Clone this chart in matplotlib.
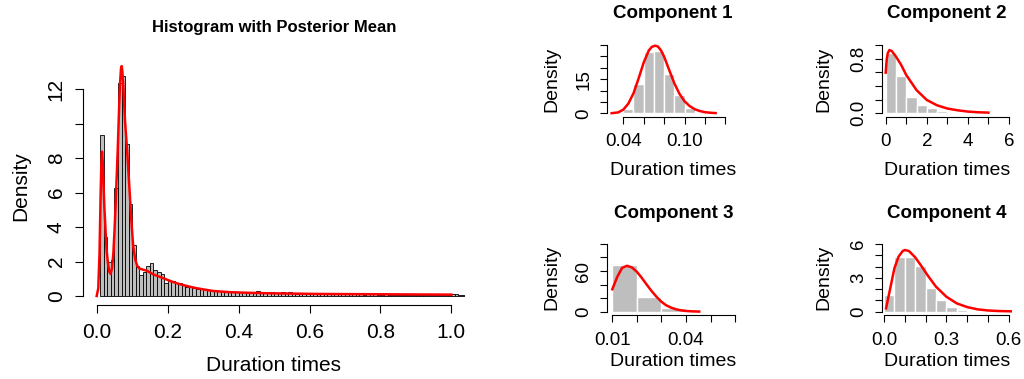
import numpy as np
import matplotlib
matplotlib.use("Agg")
import matplotlib.pyplot as plt

plt.rcParams['font.family'] = ['Liberation Sans', 'DejaVu Sans']

# ---------------- data ----------------
# main histogram: bins of width 0.01 starting at 0.01
main_bin_start = 0.01
main_bin_width = 0.01
main_density = [
    9.33, 3.42, 1.95, 2.09, 6.28, 12.39, 12.77, 8.83, 5.36, 2.94,
    1.72, 1.22, 1.41, 1.76, 1.90, 1.51, 1.41, 1.30, 0.75, 0.85,
    0.85, 0.77, 0.74, 0.64, 0.55, 0.50, 0.45, 0.42, 0.40, 0.38,
    0.36, 0.33, 0.32, 0.30, 0.28, 0.31, 0.26, 0.25, 0.24, 0.22,
    0.23, 0.20, 0.21, 0.19, 0.27, 0.20, 0.18, 0.26, 0.25, 0.17,
    0.16, 0.22, 0.15, 0.22, 0.15, 0.14, 0.20, 0.13, 0.14, 0.13,
    0.12, 0.14, 0.20, 0.12, 0.11, 0.10, 0.12, 0.10, 0.09, 0.10,
    0.09, 0.10, 0.12, 0.09, 0.08, 0.10, 0.09, 0.12, 0.08, 0.08,
    0.09, 0.07, 0.08, 0.07, 0.08, 0.07, 0.06, 0.07, 0.06, 0.07,
    0.06, 0.06, 0.05, 0.06, 0.05, 0.05, 0.06, 0.05, 0.06, 0.12,
    0.09, 0.05, 0.04,
]
# posterior mean density
main_curve_x = [0.0, 0.0045, 0.008, 0.011, 0.013, 0.015, 0.017, 0.0195, 0.0215, 0.025,
                0.028, 0.032, 0.0356, 0.0394, 0.043, 0.047, 0.0505, 0.0535, 0.059, 0.063,
                0.066, 0.0685, 0.0705, 0.0725, 0.075, 0.0798, 0.0863, 0.092, 0.0976, 0.103,
                0.109, 0.1145, 0.12, 0.13, 0.141, 0.16, 0.188, 0.21, 0.235, 0.26,
                0.282, 0.31, 0.329, 0.376, 0.42, 0.48, 0.55, 0.62, 0.7, 0.8, 0.9, 1.0]
main_curve_y = [0.0, 0.45, 2.5, 5.8, 7.6, 8.38, 7.8, 6.3, 5.2, 3.8,
                2.67, 1.85, 1.41, 1.28, 1.6, 2.48, 3.9, 5.38, 8.29, 10.8,
                12.4, 13.2, 13.35, 13.0, 12.2, 10.2, 8.29, 6.35, 4.41, 2.86,
                2.09, 1.74, 1.6, 1.53, 1.47, 1.25, 1.03, 0.85, 0.68, 0.55,
                0.45, 0.35, 0.29, 0.22, 0.19, 0.16, 0.14, 0.12, 0.11, 0.1, 0.09, 0.08]

# component 1
c1_edges = [0.04, 0.05, 0.06, 0.07, 0.08, 0.09, 0.10, 0.11]
c1_density = [1.9, 12.7, 26.8, 27.3, 17.4, 8.2, 2.5]
c1_curve_x = [0.0286, 0.035, 0.04, 0.045, 0.05, 0.055, 0.06, 0.065, 0.068, 0.0712, 0.074,
              0.077, 0.08, 0.085, 0.09, 0.095, 0.10, 0.105, 0.11, 0.115, 0.12, 0.125, 0.1305]
c1_curve_y = [0.05, 0.4, 1.6, 4.3, 8.8, 15.3, 22.3, 27.6, 29.2, 29.7, 29.3,
              27.6, 24.9, 19.0, 13.2, 8.6, 5.3, 3.2, 1.8, 1.0, 0.5, 0.25, 0.1]

# component 2
c2_edges = [0.0, 0.5, 1.0, 1.5, 2.0, 2.5, 3.0, 3.5, 4.0, 4.5, 5.0]
c2_density = [0.89, 0.55, 0.245, 0.125, 0.074, 0.036, 0.02, 0.012, 0.008, 0.005]
c2_curve_x = [0.0, 0.05, 0.1, 0.18, 0.3, 0.5, 0.75, 1.0, 1.25, 1.5, 2.0, 2.5, 3.0,
              3.5, 4.0, 4.5, 5.0]
c2_curve_y = [0.595, 0.79, 0.88, 0.927, 0.91, 0.83, 0.71, 0.56, 0.45, 0.34, 0.195,
              0.117, 0.07, 0.044, 0.025, 0.015, 0.01]

# component 3
c3_edges = [0.01, 0.02, 0.03, 0.04]
c3_density = [68.9, 22.1, 5.9]
c3_curve_x = [0.010, 0.012, 0.014, 0.016, 0.018, 0.020, 0.022, 0.024, 0.026, 0.028,
              0.030, 0.032, 0.034, 0.036, 0.038, 0.040, 0.0425, 0.0454]
c3_curve_y = [33.1, 51.3, 64.7, 67.8, 65.3, 58.9, 50.0, 40.0, 30.5, 22.0,
              14.7, 9.3, 5.9, 3.5, 2.0, 1.1, 0.5, 0.2]

# component 4
c4_edges = [0.0, 0.05, 0.10, 0.15, 0.20, 0.25, 0.30, 0.35, 0.40, 0.45, 0.50]
c4_density = [1.45, 4.88, 4.88, 4.05, 2.1, 1.04, 0.39, 0.15, 0.06, 0.03]
c4_curve_x = [0.01, 0.03, 0.05, 0.07, 0.09, 0.10, 0.12, 0.15, 0.18, 0.21, 0.25,
              0.30, 0.35, 0.40, 0.45, 0.50, 0.55, 0.62]
c4_curve_y = [0.3, 2.07, 3.85, 4.88, 5.38, 5.47, 5.38, 4.82, 4.05, 3.22, 2.22,
              1.33, 0.74, 0.41, 0.21, 0.11, 0.06, 0.03]

W, H = 1024, 379
fig = plt.figure(figsize=(W / 100, H / 100), dpi=100)

BAR_GREY = "#BEBEBE"
RED = "#FF0000"


def px_axes(left, right, top, bottom, xlim, ylim):
    ax = fig.add_axes([left / W, 1 - bottom / H, (right - left) / W, (bottom - top) / H])
    ax.set_xlim(*xlim)
    ax.set_ylim(*ylim)
    ax.patch.set_visible(False)
    return ax


def r_axes(ax, xticks, xlabels, yticks, ylabels, fs, tlen, xpad, ypad):
    for s in ["top", "right"]:
        ax.spines[s].set_visible(False)
    ax.spines["bottom"].set_bounds(xticks[0], xticks[-1])
    ax.spines["left"].set_bounds(yticks[0], yticks[-1])
    for s in ["bottom", "left"]:
        ax.spines[s].set_linewidth(0.8)
    ax.set_xticks(xticks, xlabels)
    ax.set_yticks(yticks, ylabels)
    ax.tick_params(direction="out", length=tlen, width=0.8, labelsize=fs)
    ax.tick_params(axis="x", pad=xpad)
    ax.tick_params(axis="y", pad=ypad, labelrotation=90)
    for lab in ax.get_yticklabels():
        lab.set_va("center")


def ftext(x, y, s, **kw):
    fig.text(x / W, 1 - y / H, s, **kw)


# ---------------- main histogram ----------------
ax = px_axes(83, 464.6, 65, 305, (-0.0386, 1.0372), (-0.523, 13.41))
lefts = main_bin_start + main_bin_width * np.arange(len(main_density))
ax.bar(lefts, main_density, width=main_bin_width, align="edge",
       color=BAR_GREY, edgecolor="black", linewidth=0.6)
ax.plot(main_curve_x, main_curve_y, color=RED, lw=1.8)
r_axes(ax, [0.0, 0.2, 0.4, 0.6, 0.8, 1.0], ["0.0", "0.2", "0.4", "0.6", "0.8", "1.0"],
       [0, 2, 4, 6, 8, 10, 12], ["0", "2", "4", "6", "8", "", "12"],
       15, 6, 7, 6.5)
ftext(273.8, 31.7, "Histogram with Posterior Mean", ha="center", va="baseline",
      fontsize=12, fontweight="bold")
ftext(273.8, 371, "Duration times", ha="center", va="baseline", fontsize=15)
ftext(21, 185.8, "Density", ha="center", va="center", rotation=90, fontsize=15)

# ---------------- components ----------------
comps = [
    dict(edges=c1_edges, dens=c1_density, cx=c1_curve_x, cy=c1_curve_y,
         box=(607, 737.5, 35, 116.7), xlim=(0.02402, 0.15196), ylim=(-1.493, 34.39),
         xt=[0.04, 0.06, 0.08, 0.10, 0.12, 0.14], xl=["0.04", "", "", "0.10", "", ""],
         yt=[0, 5, 10, 15, 20, 25, 30], yl=["0", "", "", "15", "", "", ""],
         title="Component 1", tx=672.5, ty=17.5, lx=551.7, ly=79, bx=673, by=175.5),
    dict(edges=c2_edges, dens=c2_density, cx=c2_curve_x, cy=c2_curve_y,
         box=(881.7, 1012.3, 35, 116.7), xlim=(-0.195, 6.161), ylim=(-0.0498, 1.1464),
         xt=[0, 1, 2, 3, 4, 5, 6], xl=["0", "", "2", "", "4", "", "6"],
         yt=[0.0, 0.2, 0.4, 0.6, 0.8, 1.0], yl=["0.0", "", "", "", "0.8", ""],
         title="Component 2", tx=947, ty=17.5, lx=824.2, ly=79, bx=947, by=175.5),
    dict(edges=c3_edges, dens=c3_density, cx=c3_curve_x, cy=c3_curve_y,
         box=(606.7, 737.5, 235, 315), xlim=(0.00772, 0.06098), ylim=(-4.87, 113.2),
         xt=[0.01, 0.02, 0.03, 0.04, 0.05, 0.06], xl=["0.01", "", "", "0.04", "", ""],
         yt=[0, 20, 40, 60, 80, 100], yl=["0", "", "", "60", "", ""],
         title="Component 3", tx=673.8, ty=217.5, lx=551.7, ly=277.5, bx=673, by=365.5),
    dict(edges=c4_edges, dens=c4_density, cx=c4_curve_x, cy=c4_curve_y,
         box=(881.7, 1012.3, 235, 315), xlim=(-0.01107, 0.6174), ylim=(-0.2926, 6.8),
         xt=[0.0, 0.1, 0.2, 0.3, 0.4, 0.5, 0.6], xl=["0.0", "", "", "0.3", "", "", "0.6"],
         yt=[0, 1, 2, 3, 4, 5, 6], yl=["0", "", "", "3", "", "", "6"],
         title="Component 4", tx=947.2, ty=217.5, lx=824.2, ly=277.5, bx=947, by=365.5),
]

for c in comps:
    l, r, t, b = c["box"]
    ax = px_axes(l, r, t, b, c["xlim"], c["ylim"])
    edges = np.array(c["edges"])
    ax.bar(edges[:-1], c["dens"], width=np.diff(edges), align="edge",
           color=BAR_GREY, edgecolor="white", linewidth=1.0)
    ax.plot(c["cx"], c["cy"], color=RED, lw=1.8)
    r_axes(ax, c["xt"], c["xl"], c["yt"], c["yl"], 13.5, 5, 7, 5.5)
    ftext(c["tx"], c["ty"], c["title"], ha="center", va="baseline",
          fontsize=13.5, fontweight="bold")
    ftext(c["bx"], c["by"], "Duration times", ha="center", va="baseline", fontsize=14)
    ftext(c["lx"], c["ly"], "Density", ha="center", va="center", rotation=90, fontsize=14)

fig.savefig("out.png", dpi=100)
